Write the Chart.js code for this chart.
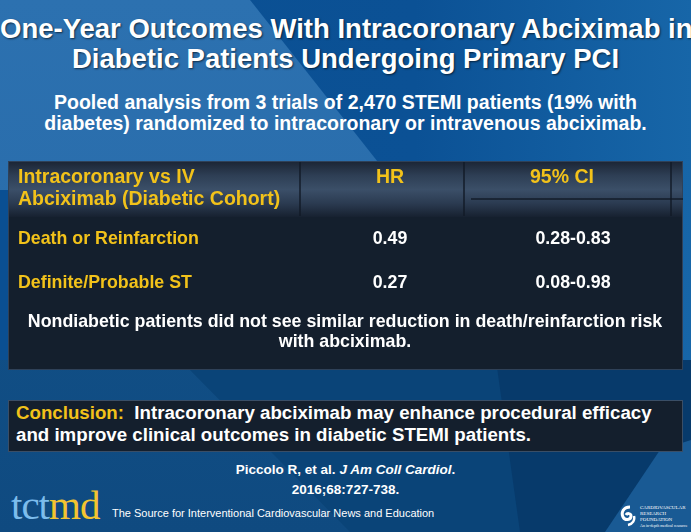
<!DOCTYPE html>
<html>
<head>
<meta charset="utf-8">
<script src="https://cdn.jsdelivr.net/npm/chart.js@4/dist/chart.umd.min.js"></script>
<style>
html,body{margin:0;padding:0;}
body{width:691px;height:532px;overflow:hidden;position:relative;font-family:"Liberation Sans",Arial,sans-serif;
 background:linear-gradient(90deg,#0a4f92 0%,#0b5195 60%,#1766a8 100%);}
.bg{position:absolute;left:0;top:0;width:691px;height:532px;}
#wedge{clip-path:polygon(0 0,250px 0,400px 190px,0 190px);
 background:linear-gradient(180deg,#2c71b0 0%,#2668a6 100%);}
#low{clip-path:polygon(0 360px,691px 360px,691px 532px,0 532px);background:#0a4478;}
#lowleft{clip-path:polygon(0 360px,180px 360px,350px 532px,0 532px);background:linear-gradient(180deg,#14568e 0%,#0f4a80 100%);}
#lowright{clip-path:polygon(496px 360px,691px 360px,691px 532px,520px 532px);background:#073a6b;}
#corner{clip-path:polygon(605px 532px,660px 450px,691px 440px,691px 532px);background:#195a94;}
.t{position:absolute;left:0;width:691px;text-align:center;color:#fff;font-weight:bold;white-space:nowrap;}
#title1{top:13px;font-size:27.5px;text-shadow:1px 1px 2px rgba(0,0,0,0.6);}
#title2{top:43px;font-size:27.5px;text-shadow:1px 1px 2px rgba(0,0,0,0.6);}
#sub1{top:91px;font-size:19.5px;}
#sub2{top:112px;font-size:19.5px;}
#tbox{position:absolute;left:8px;top:161px;width:675px;height:209px;background:#141f2d;border:1px solid #2f4158;box-sizing:border-box;}
#thead{position:absolute;left:0;top:0;width:100%;height:55px;background:linear-gradient(180deg,#1c2636 0%,#2e3f55 25%,#3b4f68 50%,#2b3b51 75%,#172130 100%);}
#chartwrap{position:absolute;left:8px;top:161px;width:675px;height:209px;}
#cbox{position:absolute;left:8px;top:400px;width:675px;height:52px;background:#141f2d;border:1px solid #3a4e66;box-sizing:border-box;}
.c{position:absolute;left:16px;color:#fff;font-weight:bold;font-size:18.7px;white-space:nowrap;}
#cite1{top:462px;font-size:13.5px;}
#cite2{top:482px;font-size:13.5px;}
#logo{position:absolute;left:11px;top:481px;font-family:"Liberation Serif","DejaVu Serif",serif;font-size:41px;letter-spacing:-1px;}
#tag{position:absolute;left:112px;top:507px;color:#fff;font-size:11px;white-space:nowrap;}
#crf{position:absolute;left:620px;top:503px;width:70px;height:28px;color:#fff;font-size:5px;line-height:6px;font-family:"Liberation Serif",serif;}
</style>
</head>
<body>
<div class="bg" id="wedge"></div>
<div class="bg" id="low"></div>
<div class="bg" id="lowleft"></div>
<div class="bg" id="lowright"></div>
<div class="bg" id="corner"></div>
<div class="t" id="title1">One-Year Outcomes With Intracoronary Abciximab in</div>
<div class="t" id="title2">Diabetic Patients Undergoing Primary PCI</div>
<div class="t" id="sub1">Pooled analysis from 3 trials of 2,470 STEMI patients (19% with</div>
<div class="t" id="sub2">diabetes) randomized to intracoronary or intravenous abciximab.</div>
<div id="tbox"><div id="thead"></div></div>
<div id="chartwrap"><canvas id="chart" width="675" height="209"></canvas></div>
<div id="cbox"></div>
<div class="c" style="top:402px"><span style="color:#f2c21a">Conclusion:</span>&nbsp; Intracoronary abciximab may enhance procedural efficacy</div>
<div class="c" style="top:424px">and improve clinical outcomes in diabetic STEMI patients.</div>
<div class="t" id="cite1">Piccolo R, et al. <i>J Am Coll Cardiol</i>.</div>
<div class="t" id="cite2">2016;68:727-738.</div>
<div id="logo"><span style="color:#7cbcec">tct</span><span style="color:#f3c430">md</span></div>
<div id="tag">The Source for Interventional Cardiovascular News and Education</div>
<div id="crf"><svg width="16" height="22" style="position:absolute;left:0;top:2px" viewBox="0 0 16 22"><path d="M10 2 C3 2 1 8 3 12 C5 16 11 15 11 11 C11 8 7 8 6 10" fill="none" stroke="#fff" stroke-width="3"/><path d="M8 20 C13 19 15 15 14 11" fill="none" stroke="#fff" stroke-width="2.5"/></svg>
<div style="position:absolute;left:20px;top:2px;">CARDIOVASCULAR<br>RESEARCH<br>FOUNDATION<br><span style="font-size:4px">An in-depth medical resource</span></div></div>
<script>
// ---- data ----
const headerLines = ["Intracoronary vs IV", "Abciximab (Diabetic Cohort)"];
const columnHeaders = ["HR", "95% CI"];
const outcomes = ["Death or Reinfarction", "Definite/Probable ST"];
const hazardRatios = ["0.49", "0.27"];
const confidenceIntervals = ["0.28-0.83", "0.08-0.98"];
const noteLines = ["Nondiabetic patients did not see similar reduction in death/reinfarction risk", "with abciximab."];

const yLabels = ["h1","h2","r1","r2","n1","n2"];

const tablePlugin = {
  id: 'tablePlugin',
  afterDraw(chart) {
    const ctx = chart.ctx;
    const x = chart.scales.x, y = chart.scales.y;
    const yellow = '#f2c21a';
    ctx.save();
    ctx.strokeStyle = 'rgba(18,26,38,0.95)';
    ctx.lineWidth = 1.5;
    [292, 456, 663].forEach(v => {
      const px = x.getPixelForValue(v);
      ctx.beginPath(); ctx.moveTo(px, 1); ctx.lineTo(px, 55); ctx.stroke();
    });
    ctx.beginPath(); ctx.moveTo(x.getPixelForValue(463), 38); ctx.lineTo(x.getPixelForValue(675), 38); ctx.stroke();
    ctx.textBaseline = 'middle';
    ctx.font = 'bold 19.5px "Liberation Sans", Arial, sans-serif';
    ctx.fillStyle = yellow;
    ctx.textAlign = 'left';
    headerLines.forEach((t, i) => ctx.fillText(t, x.getPixelForValue(10), y.getPixelForValue(i)));
    ctx.textAlign = 'center';
    ctx.fillText(columnHeaders[0], x.getPixelForValue(382), y.getPixelForValue(0));
    ctx.fillText(columnHeaders[1], x.getPixelForValue(554), y.getPixelForValue(0));
    ctx.font = 'bold 17.8px "Liberation Sans", Arial, sans-serif';
    outcomes.forEach((t, i) => {
      const py = y.getPixelForValue(2 + i);
      ctx.fillStyle = yellow; ctx.textAlign = 'left';
      ctx.fillText(t, x.getPixelForValue(10), py);
      ctx.fillStyle = '#ffffff'; ctx.textAlign = 'center';
      ctx.fillText(hazardRatios[i], x.getPixelForValue(382), py);
      ctx.fillText(confidenceIntervals[i], x.getPixelForValue(565), py);
    });
    ctx.fillStyle = '#ffffff'; ctx.textAlign = 'center';
    noteLines.forEach((t, i) => ctx.fillText(t, x.getPixelForValue(337), y.getPixelForValue(4 + i)));
    ctx.restore();
  }
};

new Chart(document.getElementById('chart'), {
  type: 'scatter',
  data: { datasets: [] },
  options: {
    responsive: false,
    animation: false,
    layout: { padding: 0 },
    plugins: { legend: { display: false }, tooltip: { enabled: false } },
    scales: {
      x: { type: 'linear', min: 0, max: 675, display: false },
      y: { type: 'linear', display: false, min: 0, max: 209, reverse: true }
    }
  },
  plugins: [{
    id: 'rowMap',
    afterLayout(chart) {
      const y = chart.scales.y;
      const rowPx = [17, 39, 78, 122, 161, 181];
      const orig = y.getPixelForValue.bind(y);
      y.getPixelForValue = (v) => Number.isInteger(v) && v < yLabels.length ? orig(rowPx[v]) : orig(v);
    }
  }, tablePlugin]
});
</script>
</body>
</html>
